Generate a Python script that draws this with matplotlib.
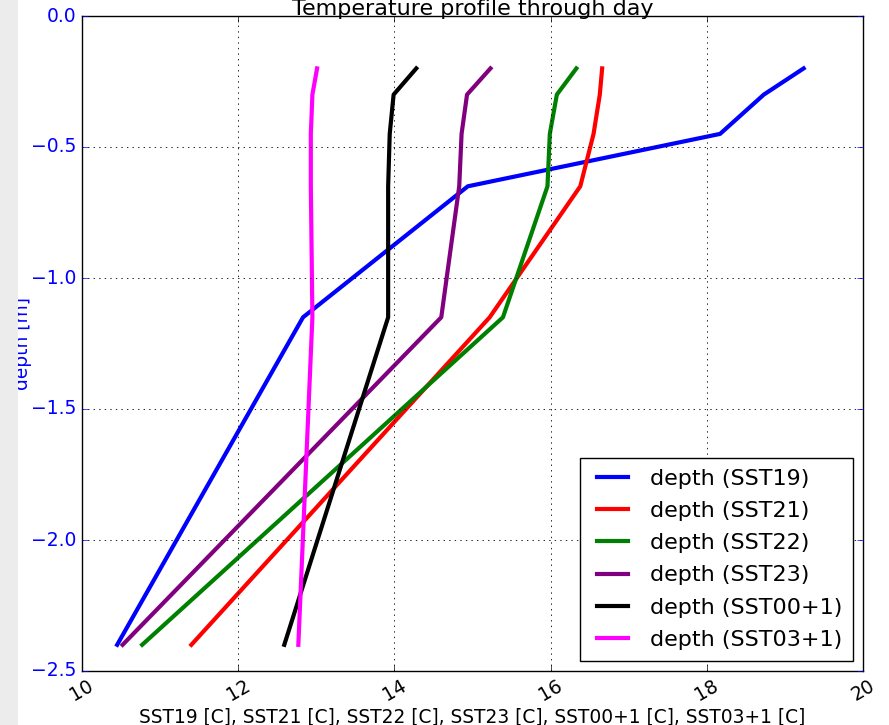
import matplotlib
matplotlib.use('Agg')
import matplotlib.pyplot as plt
from matplotlib.patches import Rectangle

# depth levels [m]
depth = [-0.2, -0.3, -0.45, -0.65, -1.15, -2.4]

# temperatures at each depth [C]
sst19 = [19.24, 18.73, 18.17, 14.94, 12.83, 10.45]
sst21 = [16.66, 16.63, 16.55, 16.38, 15.22, 11.40]
sst22 = [16.33, 16.08, 15.99, 15.96, 15.39, 10.77]
sst23 = [15.23, 14.93, 14.86, 14.83, 14.60, 10.52]
sst00 = [14.28, 13.99, 13.94, 13.92, 13.92, 12.59]
sst03 = [13.01, 12.95, 12.93, 12.93, 12.95, 12.77]

series = [
    (sst19, 'blue', 'depth (SST19)'),
    (sst21, 'red', 'depth (SST21)'),
    (sst22, 'green', 'depth (SST22)'),
    (sst23, 'purple', 'depth (SST23)'),
    (sst00, 'black', 'depth (SST00+1)'),
    (sst03, 'magenta', 'depth (SST03+1)'),
]

plt.style.use('classic')
plt.rcParams['font.family'] = ['DejaVu Sans']

fig = plt.figure(figsize=(8.89, 7.25), dpi=100, facecolor='white')
ax = fig.add_axes([82 / 889, 1 - 671 / 725, 781 / 889, 655 / 725])

for temps, col, lab in series:
    ax.plot(temps, depth, color=col, lw=3, label=lab)

ax.set_xlim(10, 20)
ax.set_ylim(-2.5, 0.0)
ax.set_xticks([10, 12, 14, 16, 18, 20])
ax.set_yticks([-2.5, -2.0, -1.5, -1.0, -0.5, 0.0])
ax.grid(True, color='black', linestyle=':', linewidth=0.6)

ax.tick_params(axis='y', colors='blue', labelsize=13.5)
ax.tick_params(axis='x', labelsize=13.5)
plt.setp(ax.get_xticklabels(), rotation=30)

ax.set_title('Temperature profile through day', fontsize=16, pad=1)
ax.set_xlabel('SST19 [C], SST21 [C], SST22 [C], SST23 [C], SST00+1 [C], SST03+1 [C]',
              fontsize=13.4, labelpad=2)
ax.set_ylabel('depth [m]', color='blue', fontsize=13.4)
ax.yaxis.set_label_coords(-0.064, 0.5)

leg = ax.legend(loc='lower right', fontsize=16, handlelength=2.0,
                handletextpad=0.65, labelspacing=0.55, borderpad=0.5,
                fancybox=False, borderaxespad=0.45)
leg.get_frame().set_edgecolor('black')

# grey window edge that hides the left of the figure
fig.add_artist(Rectangle((0, 0), 18 / 889, 1, transform=fig.transFigure,
                         facecolor='#ececec', edgecolor='none', zorder=10))

fig.savefig('out.png', dpi=100, facecolor='white')
